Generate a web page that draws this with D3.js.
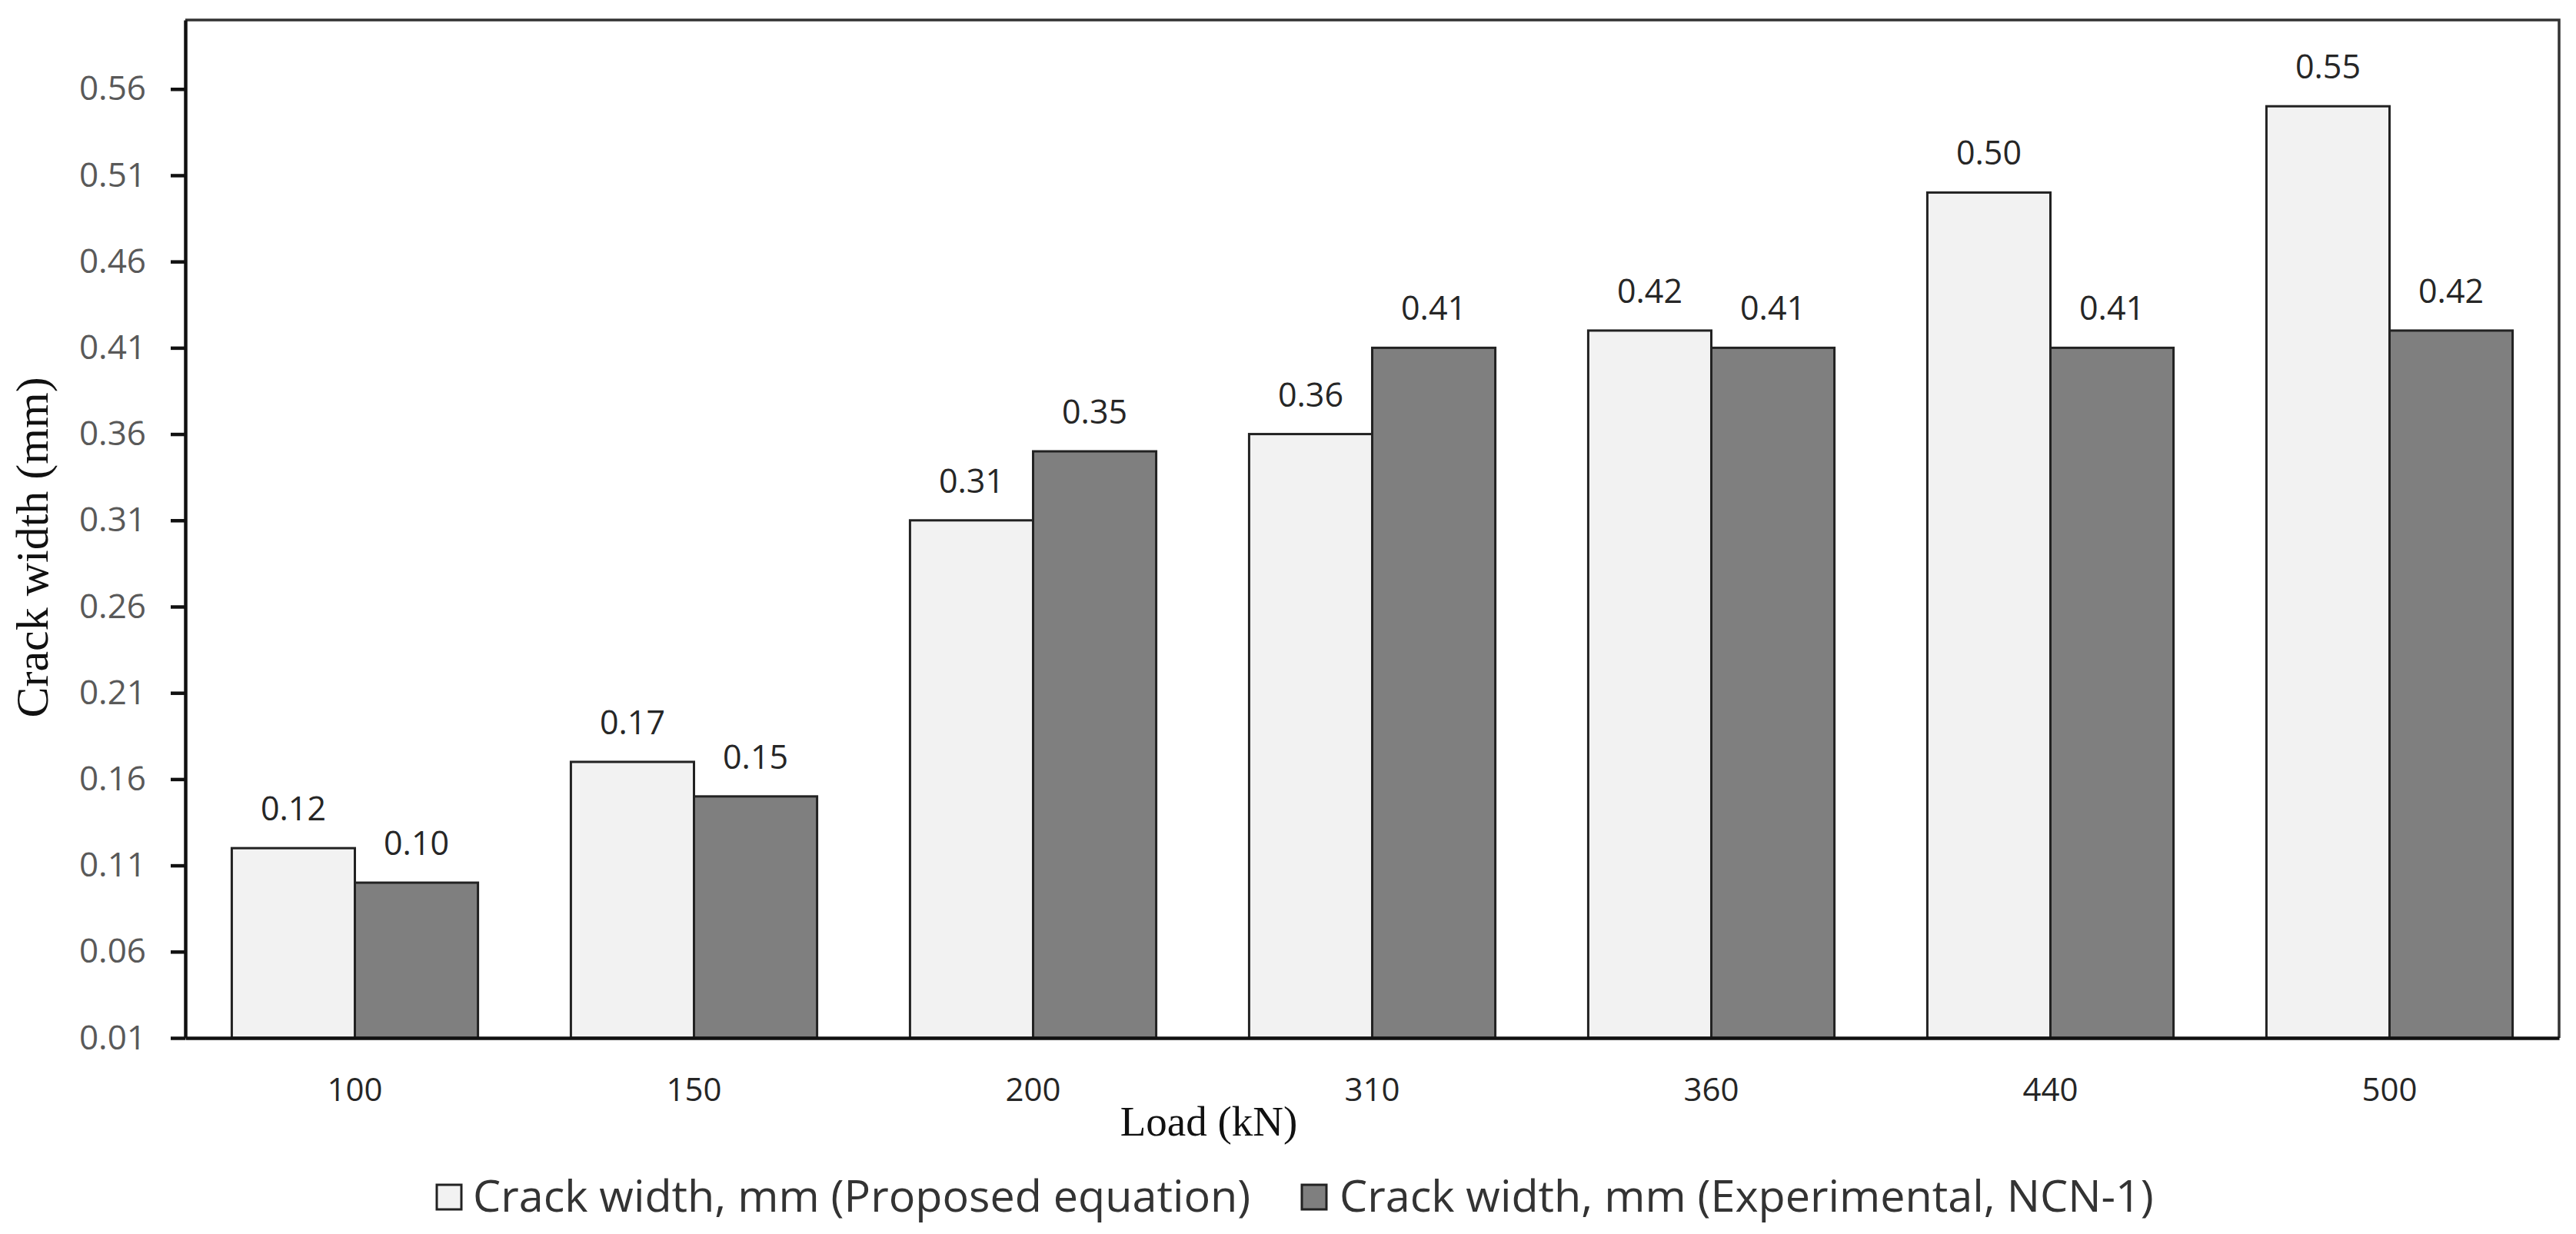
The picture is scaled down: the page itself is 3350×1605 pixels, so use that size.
<!DOCTYPE html>
<html>
<head>
<meta charset="utf-8">
<script src="https://cdn.jsdelivr.net/npm/d3@7"></script>
<style>
  html, body { margin: 0; padding: 0; background: #fff; }
  svg { display: block; }
</style>
</head>
<body>
<script>
const categories = ["100", "150", "200", "310", "360", "440", "500"];
const seriesNames = ["Crack width, mm (Proposed equation)", "Crack width, mm (Experimental, NCN-1)"];
const proposed = [0.12, 0.17, 0.31, 0.36, 0.42, 0.50, 0.55];
const experimental = [0.10, 0.15, 0.35, 0.41, 0.41, 0.41, 0.42];
const yTicks = [0.01, 0.06, 0.11, 0.16, 0.21, 0.26, 0.31, 0.36, 0.41, 0.46, 0.51, 0.56];
const yDomain = [0.01, 0.60];
const xTitle = "Load (kN)";
const yTitle = "Crack width (mm)";

const W = 3350, H = 1605;
const fills = ["#f2f2f2", "#7f7f7f"];
const margin = { left: 241, right: 3328, top: 26, bottom: 1350 };

const svg = d3.select("body").append("svg").attr("width", W).attr("height", H);

const x0 = d3.scaleBand().domain(categories).range([margin.left, margin.right])
  .paddingInner(0.274).paddingOuter(0.137);
const x1 = d3.scaleBand().domain([0, 1]).range([0, x0.bandwidth()]).padding(0);
const y = d3.scaleLinear().domain(yDomain).range([margin.bottom, margin.top]);

const data = categories.map((c, i) => ({ c, vals: [proposed[i], experimental[i]] }));

// frame (top & right)
svg.append("path")
  .attr("d", `M${margin.left},${margin.top}H${margin.right}V${margin.bottom}`)
  .attr("fill", "none").attr("stroke", "#333").attr("stroke-width", 3.5);

// bars
const groups = svg.append("g").selectAll("g").data(data).join("g")
  .attr("transform", d => `translate(${x0(d.c)},0)`);
groups.selectAll("rect").data(d => d.vals.map((v, k) => ({ v, k }))).join("rect")
  .attr("x", d => x1(d.k))
  .attr("y", d => y(d.v))
  .attr("width", x1.bandwidth())
  .attr("height", d => y(yDomain[0]) - y(d.v))
  .attr("fill", d => fills[d.k])
  .attr("stroke", "#222").attr("stroke-width", 3);
groups.selectAll("text").data(d => d.vals.map((v, k) => ({ v, k }))).join("text")
  .attr("x", d => x1(d.k) + x1.bandwidth() / 2)
  .attr("y", d => y(d.v) - 36)
  .attr("text-anchor", "middle")
  .attr("font-family", "'Open Sans', sans-serif")
  .attr("font-size", 43)
  .attr("fill", "#262626")
  .text(d => d.v.toFixed(2));

// y axis
const yAxis = svg.append("g").attr("transform", `translate(${margin.left},0)`)
  .call(d3.axisLeft(y).tickValues(yTicks).tickFormat(d3.format(".2f")).tickSizeInner(19).tickSizeOuter(0).tickPadding(32));
yAxis.select(".domain").attr("stroke", "#111").attr("stroke-width", 4.5);
yAxis.selectAll(".tick line").attr("stroke", "#111").attr("stroke-width", 4.5);
yAxis.selectAll(".tick text").attr("font-family", "'Open Sans', sans-serif").attr("font-size", 44).attr("fill", "#595959");

// x axis
const xAxis = svg.append("g").attr("transform", `translate(0,${margin.bottom})`)
  .call(d3.axisBottom(x0).tickSize(0).tickPadding(52));
xAxis.select(".domain").attr("stroke", "#111").attr("stroke-width", 4.5);
xAxis.selectAll(".tick text").attr("font-family", "'Open Sans', sans-serif").attr("font-size", 42).attr("fill", "#262626");

// axis titles
svg.append("text").attr("x", 1572).attr("y", 1477).attr("text-anchor", "middle")
  .attr("font-family", "'Liberation Serif', 'Times New Roman', serif").attr("font-size", 55).attr("fill", "#111")
  .text(xTitle);
svg.append("text").attr("transform", "translate(62,712) rotate(-90)").attr("text-anchor", "middle")
  .attr("font-family", "'Liberation Serif', 'Times New Roman', serif").attr("font-size", 60).attr("fill", "#111")
  .text(yTitle);

// legend
const legendItems = [
  { box: 568, text: 615 },
  { box: 1693, text: 1742 }
];
const lg = svg.append("g");
legendItems.forEach((it, k) => {
  lg.append("rect").attr("x", it.box).attr("y", 1541).attr("width", 32).attr("height", 32)
    .attr("fill", fills[k]).attr("stroke", "#222").attr("stroke-width", 3);
  lg.append("text").attr("x", it.text).attr("y", 1576)
    .attr("font-family", "'Open Sans', sans-serif").attr("font-size", 57.5).attr("fill", "#333")
    .text(seriesNames[k]);
});
</script>
</body>
</html>
